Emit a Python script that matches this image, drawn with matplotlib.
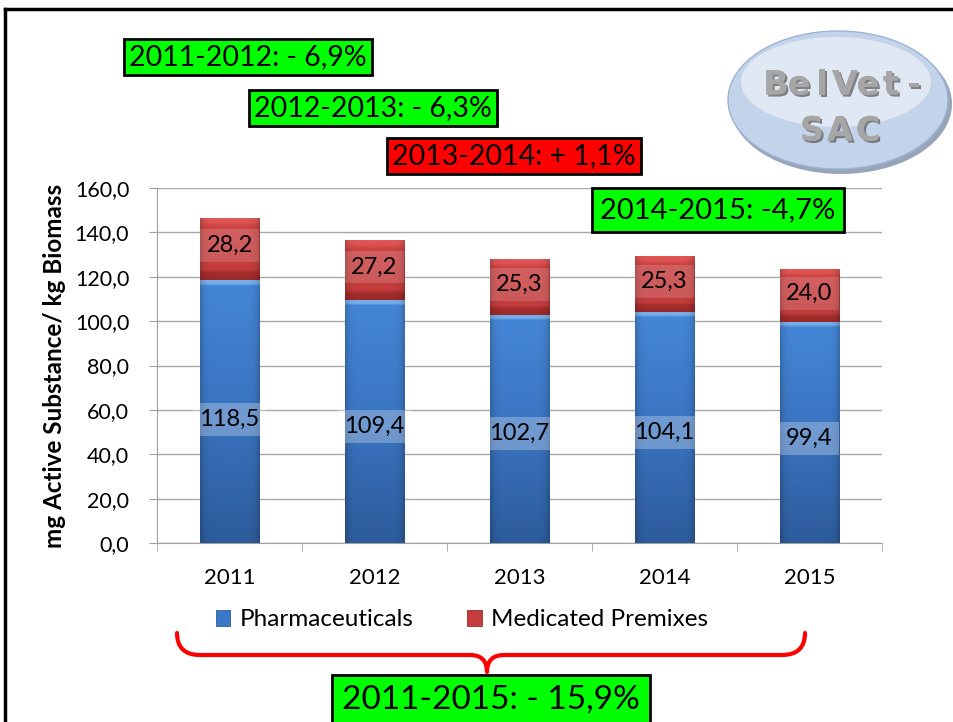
import matplotlib
matplotlib.use("Agg")
import matplotlib.pyplot as plt
import numpy as np
from matplotlib.patches import Ellipse, PathPatch
from matplotlib.path import Path
from matplotlib.colors import to_rgb
import matplotlib.patheffects as pe

years = ["2011", "2012", "2013", "2014", "2015"]
pharma = [118.5, 109.4, 102.7, 104.1, 99.4]
premix = [28.2, 27.2, 25.3, 25.3, 24.0]
series_names = ["Pharmaceuticals", "Medicated Premixes"]
yticks = [0, 20, 40, 60, 80, 100, 120, 140, 160]
changes = ["2011-2012: - 6,9%", "2012-2013: - 6,3%", "2013-2014: + 1,1%", "2014-2015: -4,7%"]
total_change = "2011-2015: - 15,9%"
ylabel = "mg Active Substance/ kg Biomass"

plt.rcParams['font.family'] = ['Lato', 'DejaVu Sans']

W, H = 954, 722
fig = plt.figure(figsize=(W/100, H/100), dpi=100)

def fx(px):
    return px / W
def fy(py):
    return 1 - py / H
def P(px, py):
    return (fx(px), fy(py))

ax = fig.add_axes([fx(157), fy(543), fx(882) - fx(157), fy(188) - fy(543)])
x = np.arange(len(years))
blue = "#3B78C8"
red = "#C63C3C"
bw = 0.407
b1 = ax.bar(x, pharma, width=bw, color=blue, edgecolor="#2E5E9E", linewidth=0.6, zorder=3)
b2 = ax.bar(x, premix, width=bw, bottom=pharma, color=red, edgecolor="#9E2E2E", linewidth=0.6, zorder=3)

def grad_image(stops, n=200, nx=40):
    # stops: list of (t, color) bottom(0) -> top(1)
    t = np.linspace(0, 1, n)
    ts = [s[0] for s in stops]
    cols = np.array([to_rgb(s[1]) for s in stops])
    rgb = np.stack([np.interp(t, ts, cols[:, c]) for c in range(3)], axis=-1)
    img = np.repeat(rgb[:, None, :], nx, axis=1)
    hx = np.abs(np.linspace(-1, 1, nx)) ** 8
    img = img * (1 - 0.18 * hx)[None, :, None]
    return np.clip(img, 0, 1)

blue_stops = [(0, "#2D5B9B"), (0.5, "#3A74C0"), (0.98, "#4486D6"), (0.99, "#78AEEA"), (1, "#78AEEA")]
red_stops = [(0, "#9A2828"), (0.12, "#A52E2E"), (0.16, "#C23C3C"), (0.85, "#CC4444"), (0.9, "#DC5050"), (1, "#E45A5A")]
for bars, stops in [(b1, blue_stops), (b2, red_stops)]:
    for rect in bars:
        x0, y0 = rect.get_x(), rect.get_y()
        w, h = rect.get_width(), rect.get_height()
        im = ax.imshow(grad_image(stops), extent=[x0, x0 + w, y0, y0 + h], origin="lower", aspect="auto",
                       zorder=3.5, interpolation="bilinear")
        im.set_clip_path(rect)

ax.set_xlim(-0.5, 4.5)
ax.set_ylim(0, 160)
ax.set_yticks(yticks)
ax.set_yticklabels([f"{v:.1f}".replace(".", ",") for v in yticks], fontsize=15.5)
ax.set_xticks(x)
ax.set_xticklabels(years, fontsize=16)
ax.set_xticks(np.arange(-0.5, 5, 1), minor=True)
ax.tick_params(axis='x', which='major', length=0, pad=18)
ax.tick_params(axis='x', which='minor', length=6, color="#A0A0A0", direction="out")
ax.tick_params(axis='y', which='major', length=6, color="#A0A0A0", direction="out", pad=14)
ax.yaxis.grid(True, color="#A8A8A8", linewidth=1.0, zorder=0)
ax.set_axisbelow(True)
for s in ["top", "right"]:
    ax.spines[s].set_visible(False)
for s in ["left", "bottom"]:
    ax.spines[s].set_color("#A0A0A0")
ax.set_ylabel(ylabel, fontsize=17.5, fontweight="bold", labelpad=6)

blbox = dict(boxstyle="square,pad=0.25", facecolor=(1, 1, 1, 0.28), edgecolor="none")
rlbox = dict(boxstyle="square,pad=0.25", facecolor=(1, 1, 1, 0.15), edgecolor="none")
pharma_lbl_y = [0.47, 0.48, 0.48, 0.48, 0.475]
for i in range(len(years)):
    ax.text(x[i], pharma[i] * pharma_lbl_y[i], f"{pharma[i]:.1f}".replace(".", ","), ha="center", va="center",
            fontsize=17, color="black", bbox=blbox, zorder=5)
    ax.text(x[i], pharma[i] + premix[i] * 0.55, f"{premix[i]:.1f}".replace(".", ","), ha="center", va="center",
            fontsize=17, color="black", bbox=rlbox, zorder=5)

# legend
leg = fig.legend([b1, b2], series_names, loc="center", bbox_to_anchor=(fx(462), fy(620)), ncol=2,
                 frameon=False, fontsize=17.5, handlelength=0.6, handleheight=0.6, columnspacing=2.2,
                 handletextpad=0.4)

# change boxes
def change_box(cx, cy, text, color, fs=20.5, pad=0.18):
    fig.text(fx(cx), fy(cy), text, ha="center", va="center", fontsize=fs, color="black",
             bbox=dict(boxstyle=f"square,pad={pad}", facecolor=color, edgecolor="black", linewidth=2))

change_box(248, 57, changes[0], "#00FF00")
change_box(373, 108, changes[1], "#00FF00")
change_box(514, 156, changes[2], "#FF0000")
change_box(718, 210, changes[3], "#00FF00", fs=21, pad=0.3)
change_box(491, 700, total_change, "#00FF00", fs=24, pad=0.3)

# brace
verts = [P(177, 633), P(177, 655), P(200, 655),
         P(470, 655), P(487, 655), P(487, 672),
         P(487, 655), P(504, 655),
         P(782, 655), P(805, 655), P(805, 633)]
codes = [Path.MOVETO, Path.CURVE3, Path.CURVE3,
         Path.LINETO, Path.CURVE3, Path.CURVE3,
         Path.CURVE3, Path.CURVE3,
         Path.LINETO, Path.CURVE3, Path.CURVE3]
fig.patches.append(PathPatch(Path(verts, codes), transform=fig.transFigure, fill=False,
                             edgecolor="red", linewidth=3, capstyle="round", joinstyle="round"))

# logo
fig.patches.append(Ellipse(P(841, 104), fx(222), 140 / H, transform=fig.transFigure,
                           facecolor="#7F8FA8", edgecolor="none", alpha=0.8))
fig.patches.append(Ellipse(P(838, 100), fx(220), 138 / H, transform=fig.transFigure,
                           facecolor="#C3D3E9", edgecolor="#9DB4D6", linewidth=1))
fig.patches.append(Ellipse(P(836, 82), fx(190), 90 / H, transform=fig.transFigure,
                           facecolor="#E8EEF6", edgecolor="none", alpha=0.8))
logo_rows = [("BelVet-", 85, 776, 23), ("SAC", 131, 812, 28)]
for txt, ty, x_start, step in logo_rows:
    for k, ch in enumerate(txt):
        fig.text(fx(x_start + k * step), fy(ty), ch, ha="center", va="center", fontsize=24,
                 fontweight="bold", color="#A6A6A6", family=["DejaVu Sans"],
                 path_effects=[pe.withSimplePatchShadow(offset=(1.5, -1.5), shadow_rgbFace="#555555", alpha=0.7),
                               pe.Normal()])

# frame
fig.add_artist(plt.Line2D([fx(5), 1], [fy(9), fy(9)], color="black", linewidth=2.5, transform=fig.transFigure))
fig.add_artist(plt.Line2D([fx(5), fx(5)], [fy(9), 0], color="black", linewidth=2.5, transform=fig.transFigure))

fig.savefig("out.png", dpi=100)
